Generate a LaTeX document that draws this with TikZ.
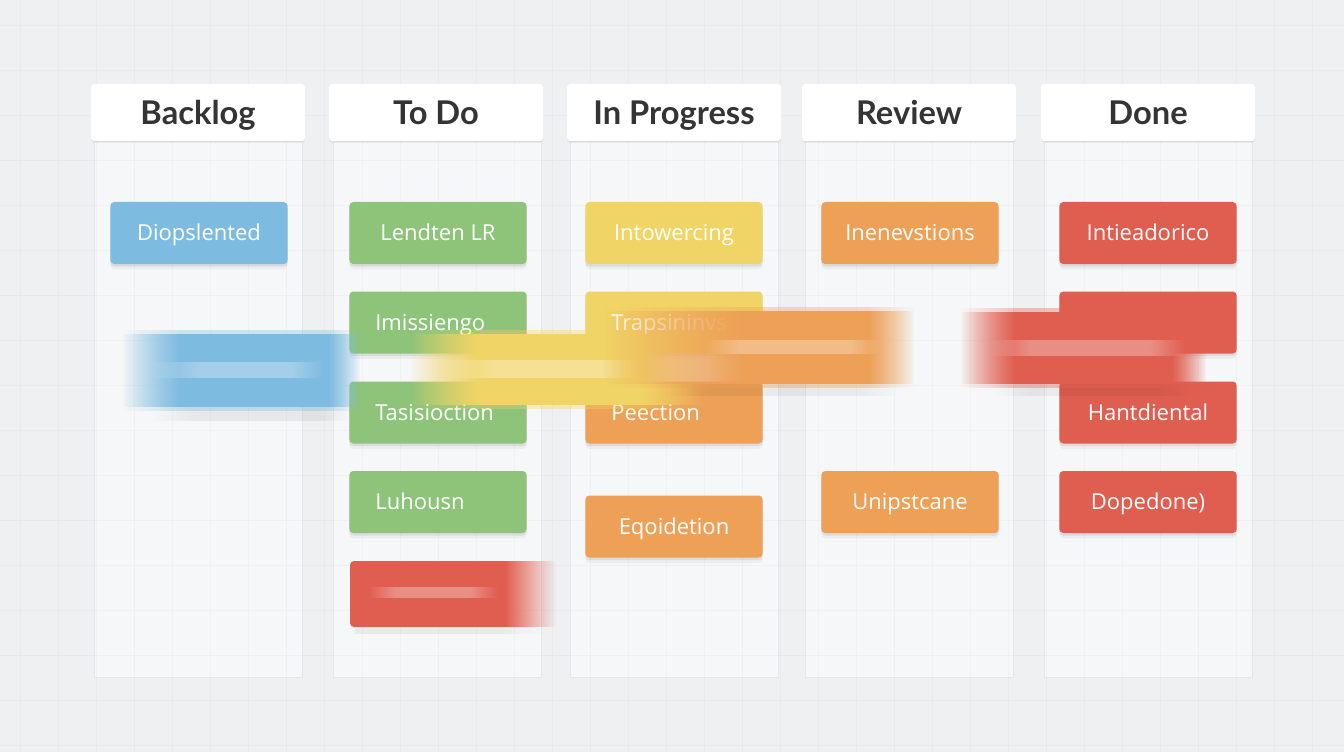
\documentclass[tikz,border=0pt]{standalone}
\usepackage{fontspec}
\setmainfont{Open Sans}
\newfontfamily\hfont{Lato}
\usetikzlibrary{fadings,shadows}
\definecolor{bg}{HTML}{EEF0F2}
\definecolor{colbody}{HTML}{F6F7F8}
\definecolor{colline}{HTML}{E4E6E9}
\definecolor{hdark}{HTML}{343434}
\definecolor{cblue}{HTML}{7EBBE0}
\definecolor{cgreen}{HTML}{8DC47A}
\definecolor{cyellow}{HTML}{F1D466}
\definecolor{corange}{HTML}{EDA056}
\definecolor{cred}{HTML}{E05E50}
\newcommand\kband[7][]{%
  \fill[#1, path fading=west] (#2,#6) rectangle (#3,#7);
  \fill[#1] (#3,#6) rectangle (#4,#7);
  \fill[#1, path fading=east] (#4,#6) rectangle (#5,#7);}
\newcommand\softband[7][]{%
  \kband[#1, fill opacity=0.35]{#2}{#3}{#4}{#5}{#6-4}{#7+4}%
  \kband[#1]{#2}{#3}{#4}{#5}{#6}{#7}}
\tikzset{
  colbox/.style={rectangle, fill=colbody, draw=colline, line width=0.5pt,
    minimum width=156pt, minimum height=402pt, inner sep=0pt},
  headbox/.style={rectangle, fill=white, rounded corners=2.5pt, inner sep=0pt,
    minimum width=160.5pt, minimum height=42.75pt, text=hdark,
    font=\hfont\bfseries\fontsize{24.5}{27}\selectfont,
    text height=17.4pt, text depth=0pt,
    drop shadow={shadow xshift=0pt, shadow yshift=-1.5pt, opacity=0.05, fill=black}},
  card/.style={rectangle, rounded corners=3pt, inner sep=0pt,
    minimum width=133pt, minimum height=46.5pt, text=white,
    font=\fontsize{16.5}{18}\selectfont, text height=11.8pt, text depth=0pt,
    drop shadow={shadow xshift=0pt, shadow yshift=-4pt, opacity=0.04, fill=black},
    drop shadow={shadow xshift=0pt, shadow yshift=-2pt, opacity=0.07, fill=black}},
  cardL/.style={card, text width=94pt, align=left, inner xsep=19.5pt},
}
\begin{document}
\begin{tikzpicture}[x=0.75pt, y=-0.75pt]
\useasboundingbox (0,0) rectangle (1344,752);
\fill[bg] (0,0) rectangle (1344,752);

% column bodies
\node[colbox] (b1) at (198,409) {};
\node[colbox] (b2) at (437,409) {};
\node[colbox] (b3) at (674,409) {};
\node[colbox] (b4) at (909,409) {};
\node[colbox] (b5) at (1148,409) {};

% faint grid
\foreach \x in {20,58,...,1344} \draw[black, opacity=0.025, line width=0.6pt] (\x,0) -- (\x,752);
\foreach \y in {25,70,...,752} \draw[black, opacity=0.022, line width=0.6pt] (0,\y) -- (1344,\y);

% headers
\node[headbox] (h1) at (198,112.5) {Backlog};
\node[headbox] (h2) at (436,112.5) {To Do};
\node[headbox] (h3) at (674,112.5) {In Progress};
\node[headbox] (h4) at (909,112.5) {Review};
\node[headbox] (h5) at (1148,112.5) {Done};

% cards
\node[card, fill=cblue] (c11) at (199,233) {Diopslented};

\node[card, fill=cgreen] (c21) at (438,233) {Lendten LR};
\node[cardL, fill=cgreen] (c22) at (438,322.5) {Imissiengo};
\node[cardL, fill=cgreen] (c23) at (438,412.5) {Tasisioction};
\node[cardL, fill=cgreen] (c24) at (438,502) {Luhousn};

\node[card, fill=cyellow] (c31) at (674,233) {Intowercing};
\node[cardL, fill=cyellow] (c32) at (674,322.5) {Trapsininvs};
\node[cardL, fill=corange] (c33) at (674,412.5) {Peection};
\node[card, fill=corange] (c34) at (674,526.5) {Eqoidetion};

\node[card, fill=corange] (c41) at (910,233) {Inenevstions};
\node[card, fill=corange] (c42) at (910,502) {Unipstcane};

\node[card, fill=cred] (c51) at (1148,233) {Intieadorico};
\node[card, fill=cred] (c52) at (1148,322.5) {};
\node[card, fill=cred] (c53) at (1148,412.5) {Hantdiental};
\node[card, fill=cred] (c54) at (1148,502) {Dopedone)};

% blurred red card in To Do
\kband[fill=black, fill opacity=0.05]{352}{356}{500}{545}{627}{634}
\begin{scope}
  \clip[rounded corners=3pt] (350,561) rectangle (562,627);
  \fill[cred] (350,561) rectangle (506,627);
  \fill[cred, path fading=east] (505,561) rectangle (556,627);
\end{scope}
\kband[fill=white, fill opacity=0.3]{368}{395}{470}{498}{587}{598}

% motion-blur bands
\kband[fill=black, fill opacity=0.06]{150}{195}{320}{350}{407}{421}
\softband[fill=cblue]{122}{180}{328}{360}{334}{407}
\kband[fill=white, fill opacity=0.3]{150}{200}{290}{325}{362}{378}

\softband[fill=cyellow]{410}{478}{640}{704}{334}{405}
\kband[fill=white, fill opacity=0.3]{440}{495}{600}{640}{360}{378}

\kband[fill=black, fill opacity=0.05]{660}{710}{860}{900}{384}{396}
\softband[fill=corange]{605}{745}{868}{914}{311}{384}
\kband[fill=white, fill opacity=0.3]{705}{740}{850}{880}{340}{354}

\kband[fill=black, fill opacity=0.05]{990}{1030}{1160}{1190}{384}{396}
\softband[fill=cred]{960}{1015}{1172}{1206}{312}{384}
\kband[fill=white, fill opacity=0.3]{990}{1030}{1150}{1185}{340}{356}
\end{tikzpicture}
\end{document}
